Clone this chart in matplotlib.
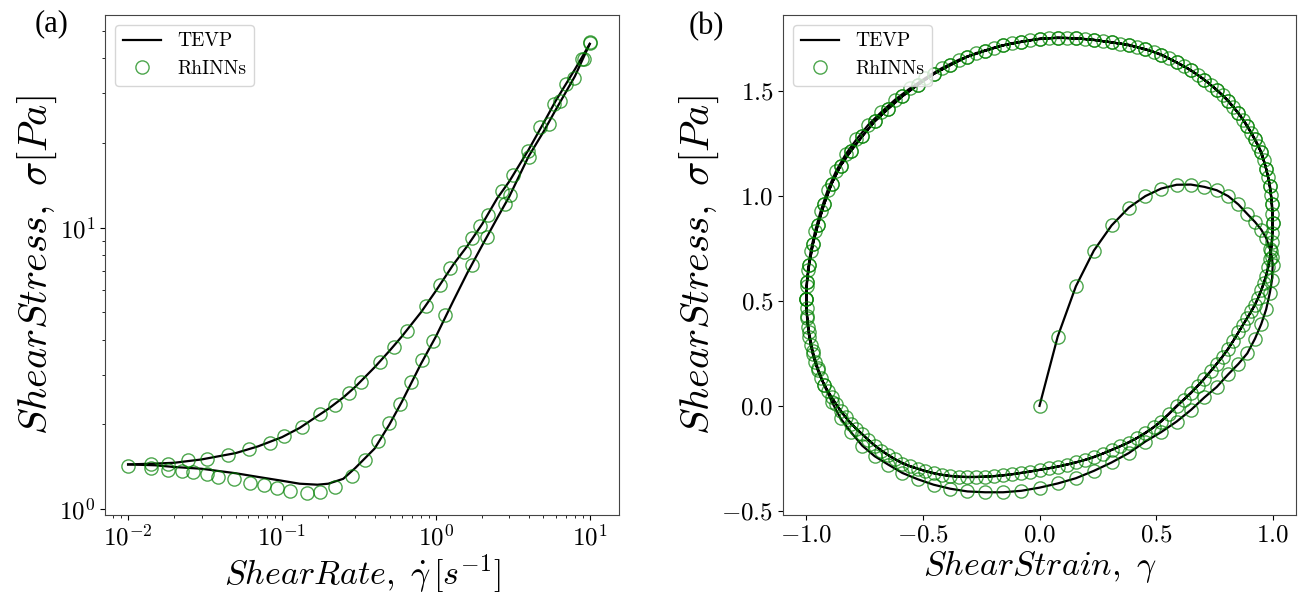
import numpy as np
import matplotlib
matplotlib.use('Agg')
import matplotlib.pyplot as plt
from matplotlib.ticker import FuncFormatter

plt.rcParams['font.family'] = 'cmr10'
plt.rcParams['mathtext.fontset'] = 'cm'
plt.rcParams['axes.formatter.use_mathtext'] = True

# ---- (a) flow curve: ramp up / ramp down ----
rate_line = [0.01, 0.015, 0.02, 0.03, 0.05, 0.07, 0.1, 0.13, 0.17, 0.2, 0.25, 0.3, 0.4,
             0.5, 0.6, 0.8, 1.0, 1.3, 1.6, 2.0, 2.5, 3.0, 4.0, 5.0, 6.0, 8.0, 10.0]
stress_line_up = [1.44, 1.45, 1.46, 1.50, 1.58, 1.67, 1.80, 1.94, 2.14, 2.27, 2.49, 2.72, 3.19,
                  3.65, 4.10, 5.0, 5.96, 7.4, 8.6, 10.3, 12.7, 14.6, 18.9, 23.5, 28.2, 36.5, 45.0]
stress_line_down = [1.44, 1.43, 1.41, 1.39, 1.34, 1.30, 1.26, 1.23, 1.22, 1.23, 1.28, 1.40, 1.64,
                    2.0, 2.40, 3.28, 4.1, 5.5, 6.9, 8.65, 10.8, 12.9, 17.9, 21.9, 26.2, 34.5, 45.0]

rate_mk_up = [0.0100, 0.01406, 0.01828, 0.02443, 0.0325, 0.0449, 0.0615, 0.0830, 0.1038, 0.1346,
              0.1754, 0.2218, 0.2723, 0.3258, 0.4305, 0.5309, 0.6486, 0.861, 1.069, 1.242,
              1.514, 1.714, 1.945, 2.168, 2.685, 3.170, 3.945, 4.775, 5.821, 7.047, 8.913, 10.0]
stress_mk_up = [1.42, 1.44, 1.45, 1.49, 1.51, 1.56, 1.63, 1.72, 1.82, 1.96,
                2.17, 2.35, 2.59, 2.83, 3.32, 3.78, 4.30, 5.25, 6.27, 7.19,
                8.19, 9.16, 10.1, 11.1, 13.5, 15.4, 18.7, 22.8, 27.6, 32.5, 39.8, 45.6]
rate_mk_down = [10.0, 9.14, 7.87, 6.44, 5.41, 4.01, 3.05, 2.82, 2.14, 1.714, 1.151, 0.953,
                0.813, 0.689, 0.581, 0.495, 0.421, 0.348, 0.285, 0.222, 0.177, 0.145, 0.113,
                0.0927, 0.0759, 0.0621, 0.0491, 0.0386, 0.0325, 0.0266, 0.0223, 0.0183, 0.0141]
stress_mk_down = [45.4, 39.8, 34.1, 28.1, 23.4, 17.9, 13.1, 12.1, 9.23, 7.38, 4.90, 3.97,
                  3.39, 2.82, 2.36, 2.02, 1.74, 1.49, 1.31, 1.20, 1.15, 1.14, 1.16,
                  1.19, 1.22, 1.24, 1.28, 1.30, 1.33, 1.35, 1.36, 1.38, 1.40]

# ---- (b) LAOS Lissajous: strain sample positions ----
gam_q = [0.0, 0.078, 0.156, 0.233, 0.309, 0.383, 0.454, 0.522, 0.588, 0.649, 0.707,
         0.760, 0.809, 0.853, 0.891, 0.924, 0.951, 0.972, 0.988, 0.997, 1.0]
gam_dn = [1.0, 0.997, 0.988, 0.972, 0.951, 0.924, 0.891, 0.853, 0.809, 0.760, 0.707,
          0.649, 0.588, 0.522, 0.454, 0.383, 0.309, 0.233, 0.156, 0.078, 0.0,
          -0.078, -0.156, -0.233, -0.309, -0.383, -0.454, -0.522, -0.588, -0.649, -0.707,
          -0.760, -0.809, -0.853, -0.891, -0.924, -0.951, -0.972, -0.988, -0.997, -1.0]
gam_dn_b = [0.999, 0.993, 0.981, 0.962, 0.938, 0.908, 0.872, 0.831, 0.785, 0.734,
            0.679, 0.619, 0.556, 0.489, 0.419, 0.346, 0.271, 0.195, 0.118, 0.039,
            -0.039, -0.118, -0.195, -0.271, -0.346, -0.419, -0.489, -0.556, -0.619, -0.679,
            -0.734, -0.785, -0.831, -0.872, -0.908, -0.938, -0.962, -0.981, -0.993, -0.999]

# stress for each pass
sig_q = [0.0, 0.33, 0.57, 0.74, 0.86, 0.945, 1.00, 1.036, 1.054, 1.055, 1.044,
         1.028, 1.00, 0.96, 0.915, 0.877, 0.84, 0.80, 0.75, 0.71, 0.67]
sig_b1 = [0.67, 0.60, 0.54, 0.46, 0.39, 0.32, 0.25, 0.20, 0.15, 0.09, 0.04,
          -0.02, -0.075, -0.125, -0.17, -0.225, -0.27, -0.31, -0.345, -0.37, -0.39,
          -0.405, -0.412, -0.412, -0.408, -0.395, -0.376, -0.35, -0.32, -0.28, -0.24,
          -0.19, -0.125, -0.06, 0.02, 0.10, 0.18, 0.26, 0.35, 0.43, 0.51]
sig_t1 = [0.51, 0.59, 0.67, 0.77, 0.86, 0.96, 1.06, 1.145, 1.215, 1.285, 1.356,
          1.416, 1.476, 1.53, 1.582, 1.624, 1.665, 1.693, 1.719, 1.735, 1.75,
          1.755, 1.752, 1.745, 1.733, 1.721, 1.70, 1.675, 1.637, 1.60, 1.555,
          1.507, 1.455, 1.396, 1.335, 1.27, 1.21, 1.13, 1.05, 0.96, 0.87]
sig_b2 = [0.87, 0.78, 0.70, 0.62, 0.55, 0.48, 0.42, 0.35, 0.27, 0.20, 0.13,
          0.06, 0.0, -0.075, -0.13, -0.175, -0.21, -0.245, -0.27, -0.29, -0.305,
          -0.32, -0.332, -0.338, -0.34, -0.335, -0.322, -0.30, -0.275, -0.235, -0.19,
          -0.135, -0.085, -0.025, 0.04, 0.10, 0.17, 0.245, 0.33, 0.42, 0.51]
sig_t2 = [0.57, 0.65, 0.74, 0.835, 0.93, 1.03, 1.12, 1.20, 1.27, 1.34,
          1.40, 1.46, 1.513, 1.563, 1.61, 1.65, 1.682, 1.708, 1.729, 1.744,
          1.753, 1.754, 1.749, 1.739, 1.727, 1.71, 1.688, 1.656, 1.62, 1.578,
          1.53, 1.48, 1.425, 1.365, 1.30, 1.24, 1.17, 1.09, 1.005, 0.915]
sig_b3 = [0.825, 0.74, 0.66, 0.585, 0.515, 0.45, 0.385, 0.31, 0.235, 0.165,
          0.095, 0.03, -0.038, -0.103, -0.153, -0.193, -0.228, -0.258, -0.28, -0.298,
          -0.313, -0.326, -0.335, -0.339, -0.338, -0.329, -0.311, -0.288, -0.255, -0.213,
          -0.163, -0.11, -0.055, 0.008, 0.07, 0.135, 0.208, 0.288, 0.375, 0.465]

gam_up = gam_dn[::-1]
gam_up_b = gam_dn_b[::-1]
strain = (gam_q + gam_dn[1:] + gam_up[1:] + gam_dn[1:] + gam_up_b + gam_dn_b + gam_up)
stress = (sig_q + sig_b1[1:] + sig_t1[1:] + sig_b2[1:] + sig_t2 + sig_b3 + sig_t1)

green = 'green'
lw = 1.6
ms = 9.5

fig = plt.figure(figsize=(13.06, 5.97), dpi=100)
ax1 = fig.add_axes([105/1306, 82/597, 514/1306, 500/597])
ax2 = fig.add_axes([783/1306, 82/597, 513/1306, 500/597])

ax1.plot(rate_line, stress_line_up, color='black', lw=lw, label='TEVP')
ax1.plot(rate_line, stress_line_down, color='black', lw=lw)
ax1.plot(rate_mk_up + rate_mk_down, stress_mk_up + stress_mk_down, 'o', mfc='none',
         mec=green, alpha=0.7, ms=ms, mew=1.0, label='RhINNs')
ax1.set_xscale('log')
ax1.set_yscale('log')
ax1.set_xlim(10**-2.15, 10**1.19)
ax1.set_ylim(0.952, 57)
ax1.set_xlabel(r'$Shear Rate,\ \dot{\gamma}\,[s^{-1}]$', fontsize=24.5, labelpad=1)
ax1.set_ylabel(r'$Shear Stress,\ \sigma[Pa]$', fontsize=29, labelpad=0)

logfmt = FuncFormatter(lambda v, p: r'$\mathrm{10^{%d}}$' % int(round(np.log10(v))))
ax1.xaxis.set_major_formatter(logfmt)
ax1.yaxis.set_major_formatter(logfmt)

ax2.plot(strain, stress, color='black', lw=lw, label='TEVP')
ax2.plot(strain, stress, 'o', mfc='none', mec=green, alpha=0.7, ms=ms, mew=1.0,
         label='RhINNs')
ax2.set_xlabel(r'$Shear Strain,\ \gamma$', fontsize=24.5, labelpad=1)
ax2.set_ylabel(r'$Shear Stress,\ \sigma[Pa]$', fontsize=29, labelpad=0)

linfmt = FuncFormatter(lambda v, p: r'$\mathrm{%.1f}$' % v)
ax2.xaxis.set_major_formatter(linfmt)
ax2.yaxis.set_major_formatter(linfmt)

for ax in (ax1, ax2):
    ax.tick_params(labelsize=18)
    for sp in ax.spines.values():
        sp.set_color('#444444')
    ax.legend(loc='upper left', fontsize=14)

fig.text(52/1306, 1 - 24/597, '(a)', family='Liberation Serif', fontsize=22,
         ha='center', va='center')
fig.text(706/1306, 1 - 27/597, '(b)', family='Liberation Serif', fontsize=22,
         ha='center', va='center')

fig.savefig('out.png', dpi=100)
